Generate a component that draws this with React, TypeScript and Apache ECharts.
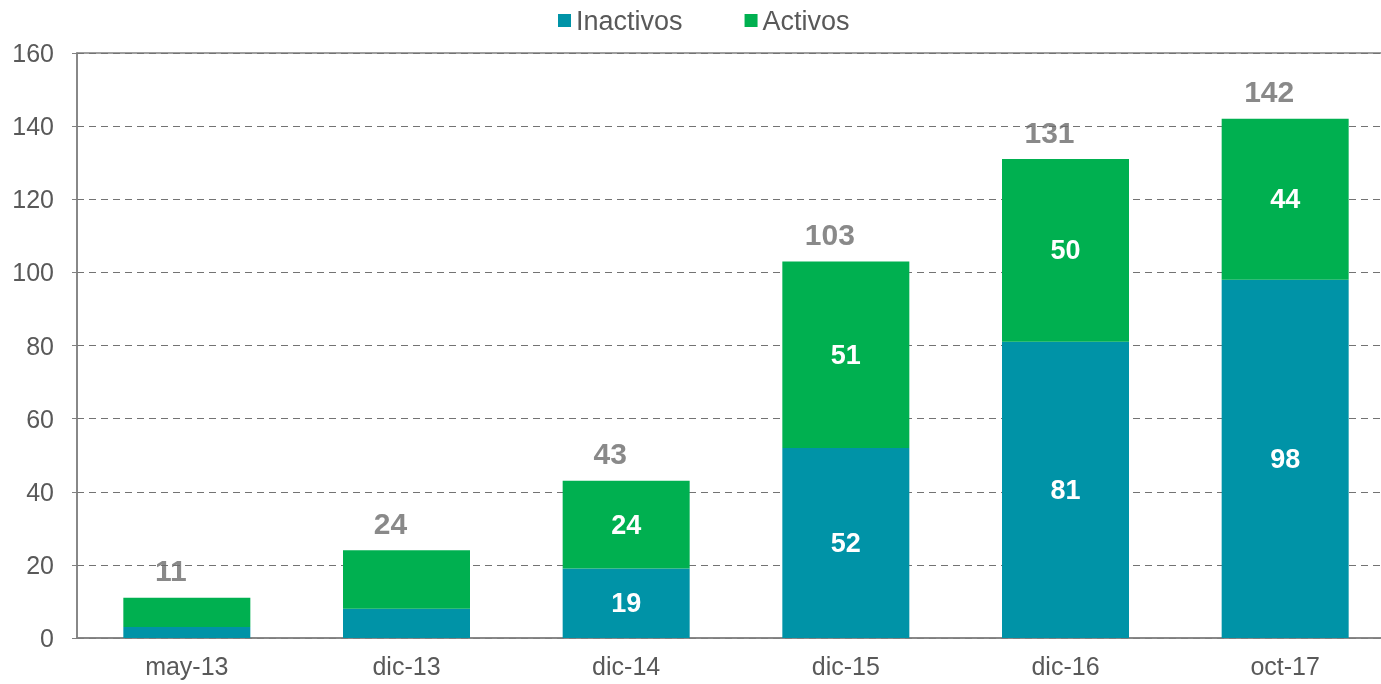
import React, { useEffect, useRef } from "react";
import * as echarts from "echarts";

const categories = ["may-13", "dic-13", "dic-14", "dic-15", "dic-16", "oct-17"];
const inactivos = [3, 8, 19, 52, 81, 98];
const activos = [8, 16, 24, 51, 50, 44];
const totals = [11, 24, 43, 103, 131, 142];
const showInside = [false, false, true, true, true, true];

export default function App() {
  const ref = useRef<HTMLDivElement>(null);
  useEffect(() => {
    const chart = echarts.init(ref.current!, undefined, { renderer: "svg" });
    const insideLabel = {
      show: true,
      position: "inside",
      color: "#ffffff",
      fontWeight: "bold",
      fontSize: 27,
      fontFamily: "Liberation Sans, Arial, sans-serif",
      formatter: (p: any) => (showInside[p.dataIndex] ? String(p.value) : ""),
    };
    chart.setOption({
      animation: false,
      textStyle: { fontFamily: "Liberation Sans, Arial, sans-serif" },
      legend: {
        top: 2,
        left: 553,
        itemWidth: 13,
        itemHeight: 13,
        itemGap: 62,
        icon: "rect",
        textStyle: { fontSize: 27, color: "#595959" },
        data: ["Inactivos", "Activos"],
      },
      grid: { left: 77, top: 53, bottom: 46, right: 0, show: true, borderColor: "#808080", borderWidth: 1.5 },
      xAxis: {
        type: "category",
        data: categories,
        axisLine: { lineStyle: { color: "#808080", width: 1.5 } },
        axisTick: { show: false },
        axisLabel: { fontSize: 25, color: "#595959", margin: 15 },
      },
      yAxis: {
        type: "value",
        min: 0,
        max: 160,
        interval: 20,
        axisLine: { show: true, lineStyle: { color: "#808080", width: 1.5 } },
        axisTick: { show: true, length: 5, lineStyle: { color: "#808080" } },
        axisLabel: { fontSize: 25, color: "#595959", margin: 23 },
        splitLine: { lineStyle: { color: "#737373", type: [7, 5], width: 1 } },
      },
      series: [
        {
          name: "Inactivos",
          type: "bar",
          stack: "t",
          data: inactivos,
          barWidth: 127,
          itemStyle: { color: "#0093A7" },
          label: insideLabel,
        },
        {
          name: "Activos",
          type: "bar",
          stack: "t",
          data: activos,
          barWidth: 127,
          itemStyle: { color: "#00B050" },
          label: insideLabel,
        },
        {
          name: "Total",
          type: "scatter",
          data: totals,
          symbolSize: 0,
          silent: true,
          label: {
            show: true,
            position: "top",
            distance: 12,
            offset: [-16, 0],
            color: "#6b6b6b",
            fontWeight: "bold",
            fontSize: 30,
            formatter: (p: any) => String(p.value),
          },
        },
      ],
    });
    return () => chart.dispose();
  }, []);
  return (
    <div style={{ position: "fixed", left: 0, top: 0, width: 1381, height: 684, overflow: "hidden" }}>
      <div ref={ref} style={{ width: 1395, height: 684 }} />
    </div>
  );
}
